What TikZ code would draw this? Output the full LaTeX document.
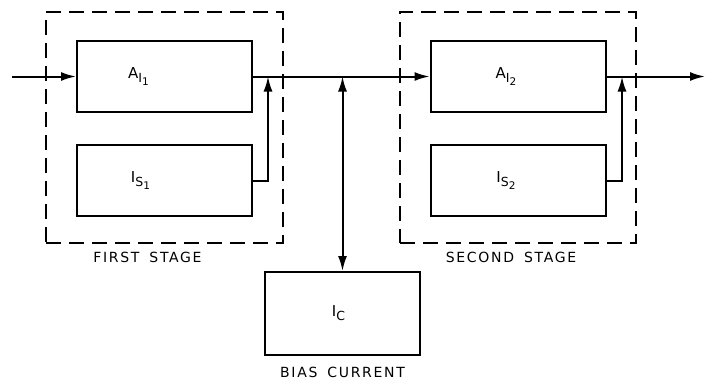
\documentclass[tikz,border=0pt]{standalone}
\usepackage{fontspec}
\setmainfont{DejaVu Sans}
\newfontfamily\lettering[LetterSpace=12]{DejaVu Sans}
\usetikzlibrary{positioning,arrows.meta}
\newcommand{\lowr}[1]{\raisebox{-.5ex}{\fontsize{12.5}{14}\selectfont #1}}
\newcommand{\lowrr}[1]{\raisebox{-.4ex}{\fontsize{10.5}{12}\selectfont #1}}

\begin{document}
\begin{tikzpicture}[
  x=1pt, y=-1pt, font=\fontsize{15}{17}\selectfont, line width=2pt,
  blk/.style={draw, minimum width=175pt, minimum height=71pt, inner sep=0pt},
  stagebox/.style={draw, dash pattern=on 15pt off 8pt, inner sep=0pt},
  caption/.style={font=\lettering\fontsize{14}{16}\selectfont, inner sep=1pt},
  arr/.style={-{Latex[length=15pt, width=9pt]}},
  dbl/.style={{Latex[length=15pt, width=9pt]}-{Latex[length=15pt, width=9pt]}}]
\useasboundingbox (0,0) rectangle (706,381);
% stages
\node[stagebox, minimum width=237pt, minimum height=231pt] (st1) at (164.5,127.5) {};
\node[stagebox, minimum width=236pt, minimum height=231pt] (st2) at (518,127.5) {};
\node[blk, label={[xshift=-26pt]center:A\lowr{I\lowrr{1}}}] (a1) at (164.5,76.5) {};
\node[blk, below=31pt of a1, label={[xshift=-24pt]center:I\lowr{S\lowrr{1}}}] (s1) {};
\node[blk, label={[xshift=-12pt]center:A\lowr{I\lowrr{2}}}] (a2) at (518,76.5) {};
\node[blk, below=31pt of a2, label={[xshift=-12pt]center:I\lowr{S\lowrr{2}}}] (s2) {};
\node[blk, minimum width=155pt, minimum height=83pt, label={[xshift=-4pt]center:I\lowr{C}}] (ic) at (342.5,313.5) {};
\node[caption] (l1) at (147.5,257.5) {FIRST\hspace{10pt}STAGE};
\node[caption] (l2) at (511,257.5) {SECOND\hspace{10pt}STAGE};
\node[caption, below=9pt of ic] (lc) {BIAS\hspace{10pt}CURRENT};
% connectors
\coordinate (in) at (12,76.5);
\coordinate (out) at (705,76.5);
\coordinate (j1) at (268,76.5);
\coordinate (j2) at (622,76.5);
\draw[arr] (in) -- (a1.west);
\draw[arr] (a1.east) -- (a2.west);
\draw[arr] (a2.east) -- (out);
\draw[arr] (s1.east) -| (j1);
\draw[arr] (s2.east) -| (j2);
\draw[dbl] (ic.north |- a1.east) -- (ic.north);
\end{tikzpicture}
\end{document}
